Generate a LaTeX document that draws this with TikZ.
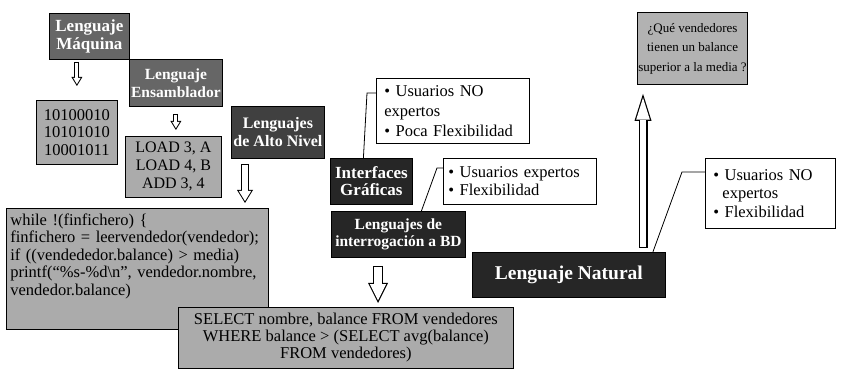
\documentclass[tikz,border=0pt]{standalone}
\usepackage{fontspec}
\setmainfont{Liberation Serif}
\usetikzlibrary{arrows.meta,calc}
\newcommand\bul{\textbullet\ }

\begin{document}
\begin{tikzpicture}[x=1pt, y=-1pt,
  box/.style={draw, line width=0.8pt, anchor=north west, align=center, inner sep=1pt},
  dark/.style={box, fill=black!85, text=white, font=\bfseries},
  light/.style={box, fill=black!33},
  note/.style={draw, line width=0.7pt, fill=white, anchor=north west, align=left, inner ysep=2pt, font=\fontsize{16.5}{20}\selectfont},
  callout/.style={line width=0.8pt},
  hollow/.style n args={7}{draw=black, line width=#1pt,
    -{Triangle[length=#2pt, width=#3pt, line width=0pt]},
    postaction={draw=white, line width=#4pt, shorten <=1pt, shorten >=#7pt,
      -{Triangle[length=#5pt, width=#6pt, line width=0pt]}}}]
\useasboundingbox (0,0) rectangle (844,371);
% levels of languages
\node[dark, fill=black!60, minimum width=80pt, minimum height=46pt, font=\bfseries\fontsize{17}{18}\selectfont] (maq) at (49,13) {Lenguaje\\Máquina};
\node[light, minimum width=81pt, minimum height=64pt, font=\fontsize{16.5}{17.5}\selectfont] (bin) at (36,100) {10100010\\10101010\\10001011};
\node[dark, fill=black!60, minimum width=93pt, minimum height=47pt, font=\bfseries\fontsize{15.5}{18}\selectfont] (ens) at (129,59) {Lenguaje\\Ensamblador};
\node[light, minimum width=96pt, minimum height=61pt, font=\fontsize{16}{18}\selectfont] (asm) at (125,136) {LOAD 3, A\\LOAD 4, B\\ADD 3, 4};
\node[dark, fill=black!75, minimum width=93pt, minimum height=52pt, font=\bfseries\fontsize{16}{18}\selectfont] (alto) at (231,106) {Lenguajes\\de Alto Nivel};
\node[light, text width=254pt, align=left, inner xsep=4pt, inner ysep=5pt, text depth=99pt, font=\fontsize{16.5}{17.5}\selectfont] (prog) at (6,208) {while !(finfichero) \{\\finfichero = leervendedor(vendedor);\\if ((vendededor.balance) > media)\\printf(``\%s-\%d\textbackslash n'', vendedor.nombre,\\vendedor.balance)};
\node[light, minimum width=335pt, minimum height=61pt, font=\fontsize{16.5}{17}\selectfont] (sql) at (178,307) {SELECT nombre, balance FROM vendedores\\WHERE balance > (SELECT avg(balance)\\FROM vendedores)};
\node[dark, minimum width=82pt, minimum height=46pt, font=\bfseries\fontsize{17}{17}\selectfont] (gui) at (330,158) {Interfaces\\Gráficas};
\node[dark, minimum width=134pt, minimum height=46pt, font=\bfseries\fontsize{15.5}{17}\selectfont] (qry) at (331,211) {Lenguajes de\\interrogación a BD};
\node[dark, minimum width=193pt, minimum height=45pt, font=\bfseries\fontsize{19.5}{20}\selectfont] (nat) at (472,252) {Lenguaje Natural};
\node[light, fill=black!30, minimum width=109pt, minimum height=72pt, font=\fontsize{13}{19.5}\selectfont] (que) at (637,12) {¿Qué vendedores\\tienen un balance\\superior a la media ?};
% notes
\node[note, text width=137pt, inner xsep=8pt, minimum height=65pt] (n1) at (376,78) {\bul Usuarios NO\\expertos\\\bul Poca Flexibilidad};
\node[note, text width=143pt, inner xsep=5pt, minimum height=46pt, font=\fontsize{16.5}{18.5}\selectfont] (n2) at (443,158) {\bul Usuarios expertos\\\bul Flexibilidad};
\node[note, text width=114pt, inner xsep=8pt, minimum height=70pt, font=\fontsize{16.5}{18.5}\selectfont] (n3) at (705,158) {\bul Usuarios NO\\\hspace*{0.55em}expertos\\\bul Flexibilidad};
% hollow arrows
\draw[hollow={5}{9}{11}{3}{6.1}{7.4}{1.9}] ($(maq.south -| bin.north)+(0,2)$) -- ($(bin.north)+(0,-14)$);
\draw[hollow={5}{9}{11}{3}{6.1}{7.4}{1.9}] ($(ens.south)+(0,7)$) -- ($(ens.south |- asm.north)+(0,-6)$);
\draw[hollow={8}{13}{16}{6}{10.1}{12.4}{1.9}] ($(alto.south west)+(14,5)$) -- ($(alto.south west |- prog.north)+(14,-5)$);
\draw[hollow={10}{20}{20}{7.6}{16.1}{16.1}{2.7}] ($(qry.south west)+(47,8)$) -- ($(qry.south west |- sql.north)+(47,-4)$);
\draw[hollow={9}{27}{17}{6.6}{21.8}{13.7}{4.0}] ($(nat.north west)+(171,-4)$) -- ($(nat.north west |- que.south)+(171,9)$);
% callouts
\draw[callout] ($(gui.north)+(-8,0)$) -- ($(n1.north west)+(-9,15)$) -- ($(n1.north west)+(0,15)$);
\draw[callout] ($(qry.north)+(23,0)$) -- ($(n2.north west)+(-6,10)$) -- ($(n2.north west)+(0,10)$);
\draw[callout] ($(nat.north)+(84,0)$) -- ($(n3.north west)+(-23,14)$) -- ($(n3.north west)+(0,14)$);
\end{tikzpicture}
\end{document}
